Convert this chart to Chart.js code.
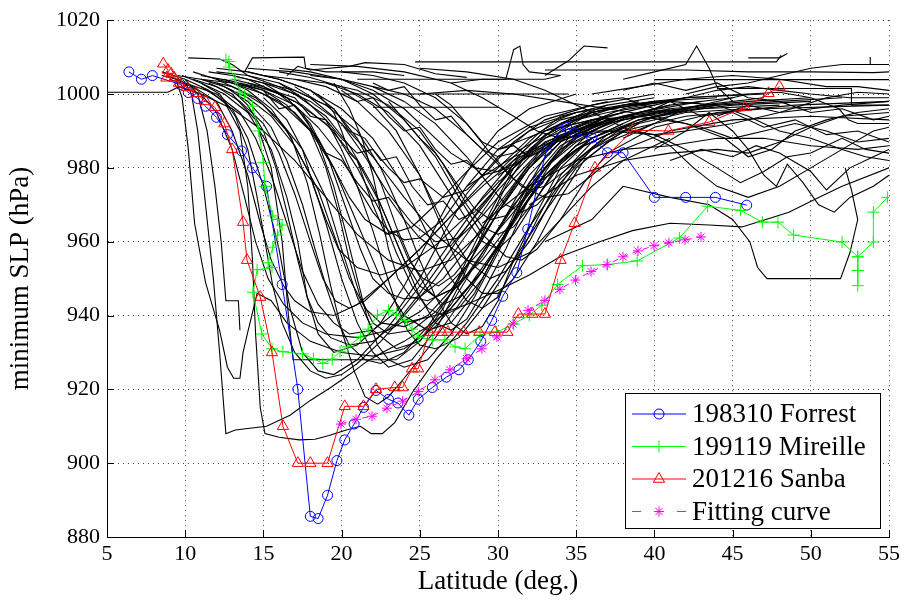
<!DOCTYPE html>
<html>
<head>
<meta charset="utf-8">
<script src="https://cdn.jsdelivr.net/npm/chart.js@4/dist/chart.umd.min.js"></script>
<style>
  html, body { margin: 0; padding: 0; background: #fff; }
  canvas { display: block; }
</style>
</head>
<body>
<canvas id="c" width="906" height="604"></canvas>
<script>
// Axis ticks
const latTicks = [5, 10, 15, 20, 25, 30, 35, 40, 45, 50, 55];
const slpTicks = [880, 900, 920, 940, 960, 980, 1000, 1020];

// Typhoon 198310 Forrest
const forrestLat = [6.4, 7.2, 7.9, 9.7, 10.2, 10.8, 11.3, 12.0, 12.7, 13.6, 14.3, 15.2, 16.2, 17.2, 18.0, 18.5, 19.1, 19.7, 20.2, 20.8, 21.4, 22.2, 23.0, 23.6, 24.3, 24.9, 25.8, 26.7, 27.5, 28.1, 28.9, 29.6, 30.3, 31.2, 31.9, 32.6, 33.1, 34.0, 34.4, 34.9, 36.0, 37.0, 38.0, 40.0, 42.0, 43.9, 45.9];
const forrestSLP = [1006, 1004, 1005, 1002.6, 1000.4, 998.8, 996.7, 993.7, 989, 984.6, 980, 975, 948.4, 920, 885.6, 885, 891.3, 900.7, 906.3, 910.6, 915.1, 919.7, 917.3, 916.3, 913, 917.3, 920.5, 923.3, 925.3, 928, 933, 938.7, 945.2, 951.6, 963.4, 976.6, 984.6, 990, 991, 989.4, 988.1, 984.1, 984.1, 972, 972, 972, 969.9];

// Typhoon 199119 Mireille
const mireilleLat = [12.6, 12.8, 12.8, 13.2, 13.5, 13.8, 14.3, 14.7, 15.0, 15.1, 15.6, 15.9, 16.2, 15.9, 15.6, 15.3, 15.55, 14.6, 14.33, 14.9, 15.55, 16.25, 17.5, 18.2, 18.8, 19.4, 19.9, 20.4, 21.2, 21.7, 22.3, 23.0, 23.5, 24.05, 24.5, 24.9, 25.8, 26.6, 27.25, 27.9, 28.85, 29.9, 31.0, 32.0, 32.8, 33.8, 35.4, 37.0, 38.9, 41.6, 43.4, 45.5, 46.9, 47.9, 48.9, 52.0, 53.0, 53.0, 53.0, 53.0, 53.0, 54.0, 54.0, 54.9];
const mireilleSLP = [1009.3, 1008.8, 1007.3, 1004, 1000.6, 1000, 996.7, 990, 981.4, 975, 967, 966, 964.5, 961.8, 958.5, 954.3, 953, 952.4, 946.3, 935, 931, 930.2, 929.6, 928.3, 927, 928.2, 930.2, 931.5, 934.2, 936.3, 940.1, 941.4, 940.4, 938.7, 936.3, 934.2, 933.4, 933.4, 931.5, 931, 934.7, 935.5, 937.7, 940.1, 942.8, 948.4, 953.5, 953.8, 954.8, 961, 969.6, 968.5, 965.3, 965.3, 961.8, 959.9, 955.9, 952.2, 948.1, 952.2, 955.9, 959.9, 968, 972];

// Typhoon 201216 Sanba
const sanbaLat = [8.6, 8.9, 8.8, 9.1, 9.3, 9.6, 10.1, 10.7, 11.3, 11.9, 12.5, 13.0, 13.7, 13.95, 14.8, 15.55, 16.25, 17.2, 18.0, 19.1, 20.2, 21.4, 22.2, 23.4, 23.9, 24.5, 24.9, 25.6, 26.4, 26.8, 27.8, 28.8, 29.8, 30.6, 31.3, 32.2, 33.0, 34.0, 34.9, 36.2, 38.6, 40.9, 43.5, 45.8, 47.3, 48.0];
const sanbaSLP = [1008.2, 1006.5, 1004.4, 1005.5, 1004.4, 1003, 1001.8, 1000.2, 998, 996.4, 992, 985, 965.3, 955, 945, 930, 910, 900, 900, 900, 915.4, 915.4, 920, 920.5, 920.5, 925.6, 925.6, 935.5, 935.5, 935.5, 935.5, 935.5, 935.5, 935.5, 940.4, 940.4, 940.4, 955, 965, 980, 990.2, 990, 992.4, 996.4, 1000.2, 1002];

// Fitting curve
const fitLat = [19.96, 20.92, 21.94, 22.9, 23.9, 24.9, 25.97, 26.93, 28.0, 28.97, 29.93, 30.96, 31.92, 33.0, 33.96, 34.95, 35.95, 36.97, 37.99, 38.95, 39.97, 40.93, 41.96, 42.98];
const fitSLP = [910.6, 911.9, 912.7, 914.9, 916.8, 919.4, 922.6, 925.3, 928.3, 931, 934.2, 937.7, 941.4, 944.1, 947.1, 949.6, 951.9, 953.8, 955.9, 957.5, 958.9, 959.7, 960.5, 961.3];

// Other typhoon tracks: pairs of latitude, minimum SLP
const stormTracks = [
  [5,1000.5, 8.9,1000.5, 9.6,1002, 11,1000, 13,996, 15,990, 17,982, 19,972, 21,962, 23,955, 25,952, 27,955, 29,963, 31,975, 33,985, 35,991, 38,995],
  [8.8,1005, 10,1003, 10.4,1000, 10.8,990, 11.3,970, 11.8,950, 12.2,930, 12.6,908, 13.2,909, 15.2,910, 16.7,913, 18,917, 19.3,920.5, 20.5,924, 21.6,927.5, 22.6,930, 24,933, 25.5,937, 27,942, 29,952, 31,965, 33,978, 35,986, 37,990],
  [9.4,1004, 9.8,999, 10.2,985, 10.6,965, 11.3,949, 12.2,936, 12.7,926, 13.1,923, 13.5,923, 13.7,930, 14,935.5, 14.6,946, 15.5,944, 16.5,938, 18,933, 20,930, 22,929, 24,931, 26,937, 28,947, 30,959, 32,972, 34,982, 36,988],
  [10,1004, 10.8,1000, 11.4,990, 11.9,975, 12.3,960, 12.6,944, 13.4,944, 13.5,936],
  [9.8,1005, 11,1003, 12.5,1000, 14,995, 15.5,985, 16.5,972, 17.2,960, 17.8,945, 18.5,935, 19.5,930, 21,932, 22.5,938, 24,948, 25.5,960, 27,972, 28.5,982, 30,990, 32,996, 35,1000],
  [10.5,1006, 12,1004, 13.5,1001, 15,997, 16.5,990, 18,978, 19,965, 20,950, 21,938, 22,930, 23,926, 24.5,928, 26,936, 27.5,948, 29,962, 30.5,975, 32,985, 34,992, 37,997, 40,999],
  [11,1004, 13,1002, 14.5,999, 16,993, 17.5,985, 19,972, 20,958, 21,945, 22,936, 23.5,931, 25,933, 26.5,942, 28,955, 29.5,968, 31,980, 33,989, 36,995, 40,998, 44,999],
  [12,1004, 14,1002, 16,998, 18,990, 19.5,980, 21,965, 22.5,950, 24,940, 25.5,936, 27,938, 28.5,946, 30,958, 31.5,972, 33,983, 35,991, 38,996, 42,999, 46,1000],
  [8.5,1006, 10,1004, 11.5,1001, 13,996, 14,988, 15,975, 16,958, 16.7,942, 17.5,930, 18.5,925, 19.5,924, 21,928, 23,937, 25,948, 27,960, 29,972, 31,982, 33,990, 36,996],
  [11.5,1003, 13,1000, 14.5,993, 15.5,980, 16.2,960, 16.6,940, 16.9,928, 19,928, 21,928, 23.5,928, 25,933, 27,943, 29,957, 31,970, 33,980, 35,987, 38,993, 42,996],
  [13,1004, 15,1002, 17,998, 19,992, 21,982, 22.5,970, 24,955, 25,945, 26,938, 27,936, 28,939, 29,946, 30.5,958, 32,972, 33.5,982, 35,989, 38,994, 41,997, 45,999],
  [14,1006, 16,1004, 18,1001, 20,996, 22,988, 24,975, 25.5,962, 27,950, 28,944, 29,942, 30,945, 31,953, 32.5,966, 34,978, 36,987, 39,993, 43,997, 47,999],
  [15,1005, 17,1004, 19,1002, 21,998, 23,990, 25,978, 26.5,965, 28,955, 29.5,950, 30.5,952, 32,960, 33.5,972, 35,982, 37,989, 40,994, 44,997],
  [10,1003, 12,1000, 13.5,995, 14.5,988, 15.5,978, 16.5,965, 17.5,952, 18.5,943, 19.5,938, 20.5,935, 22,936, 23.5,941, 25,950, 26.5,962, 28,973, 30,983, 32,990, 35,995],
  [9,1004, 10.5,1002, 12,998, 13,990, 14,978, 14.8,965, 15.5,955, 16.3,948, 17,944, 18,941, 19.5,940, 21,943, 23,950, 25,958, 27,967, 29,976, 31,984, 34,991, 38,995],
  [13.5,1003, 15.5,1001, 17.5,997, 19.5,990, 21,980, 22.5,968, 23.5,957, 24.5,948, 25.5,942, 26.5,940, 27.5,942, 29,950, 30.5,962, 32,975, 34,985, 37,992, 41,996, 46,998, 50,999],
  [16,1007, 18,1006, 20,1004, 22,1000, 24,993, 26,983, 27.5,972, 29,962, 30.5,956, 31.5,955, 32.5,958, 34,966, 35.5,976, 37,984, 40,991, 44,995, 49,997, 55,998],
  [17,1004, 19,1003, 21,1000, 23,995, 25,986, 26.5,976, 28,966, 29,960, 30,958, 31,962, 32.5,972, 34,982, 36,990, 39,995, 43,998],
  [12.5,1002, 14,999, 15.5,994, 17,986, 18.5,974, 19.5,962, 20.5,950, 21.5,942, 22.5,938, 24,937, 25.5,940, 27,947, 28.5,957, 30,968, 32,980, 34,988, 37,994],
  [11.5,1006, 13,1005, 15,1003, 17,1000, 19,994, 20.5,986, 22,975, 23,965, 24,955, 25,948, 26,945, 27.5,948, 29,956, 30.5,967, 32,978, 34,987, 37,993, 41,997],
  [14,1003, 16,1000, 17.5,995, 18.5,987, 19.5,975, 20.3,962, 21,950, 21.6,940, 22.3,932, 23,928, 24,926, 25.5,928, 27,935, 28.5,945, 30,957, 31.5,970, 33,980, 35,988, 38,994],
  [12,1007, 14,1006, 16,1004, 18,1001, 19.5,996, 21,988, 22.5,976, 23.5,964, 24.5,954, 25.5,947, 26.5,943, 27.5,945, 29,952, 30.5,962, 32,974, 34,985, 36,991, 39,995, 42,996],
  [11,1003, 12.2,1000, 13.2,994, 14,985, 14.6,972, 15.1,960, 15.6,948, 16.2,938, 17,930, 18,925, 19,923, 20,924, 21,927, 22.5,933, 24,940, 26,950, 28,962, 30,974, 32,983, 35,990],
  [18,1005, 20,1004, 22,1002, 24,998, 26,992, 28,983, 29.5,975, 30.5,970, 31.5,968, 32.5,970, 34,977, 36,985, 38,991, 41,995, 45,997, 50,998],
  [20,1006, 22,1005, 24,1003, 26,999, 28,992, 29.5,984, 31,977, 32,974, 33,975, 34.5,980, 36.5,987, 39,992, 42,995, 46,996],
  [11,1002, 12.5,998, 13.5,990, 14,975, 14.3,955, 14.5,935, 14.8,915, 15.1,908, 16,907, 17.3,906.3, 18.3,906.5, 19.2,907.5, 20.3,909, 21.2,910, 21.9,908, 22.6,908, 23.4,911, 24.5,919, 26,928, 28,938, 30,950, 32,964, 34,976, 36,985, 39,992],
  [12.5,1004, 14,1001, 15.5,996, 16.8,988, 17.8,976, 18.6,962, 19.3,948, 20,936, 20.8,925, 21.5,918, 22.3,916, 23,918, 24,923, 25.5,931, 27,940, 29,952, 31,966, 33,978, 35,986, 38,992],
  [15,1003, 17,1001, 19,997, 21,990, 22.5,980, 24,966, 25,955, 26,945, 27,938, 28,935, 29,937, 30,944, 31,955, 32.5,968, 34,980, 36,988, 39,994, 43,997],
  [16,1006, 18,1004.5, 20,1002, 22,997, 23.5,990, 25,978, 26,968, 27,958, 28,950, 29,946, 30,946, 31,950, 32.5,960, 34,972, 35.5,982, 38,990, 42,994, 47,996, 55,997],
  [13,1005, 15,1003, 16.5,999, 18,992, 19.2,982, 20.2,970, 21.2,958, 22,950, 23,946, 24,944.5, 25,945, 26.5,950, 28,958, 30,970, 32,981, 34,988, 37,993],
  [19,1003, 21,1001, 23,997, 25,990, 26.5,981, 28,970, 29,964, 30,962, 31,964, 32.5,972, 34,981, 36,988, 39,993, 43,996, 48,997],
  [10.5,1004, 12,1002, 13.5,998, 15,992, 16,984, 17,973, 18,960, 18.8,950, 19.6,944, 20.5,942, 21.5,944, 23,950, 25,958, 27,967, 29,975, 31,982, 34,989, 37,993],
  [9.5,1005, 11,1004, 12.5,1002, 14,998, 15.5,991, 16.5,982, 17.5,970, 18.3,958, 19,948, 19.8,938, 20.5,932, 21.5,928, 22.5,927, 24,930, 25.5,937, 27,946, 28.5,957, 30,968, 31.5,978, 33,986, 35,991],
  [12,1003, 13,1001, 14,997, 15,990, 15.8,980, 16.5,968, 17.2,955, 17.8,945, 18.5,938, 19.3,934, 20.5,932, 22,933, 23.5,938, 25,946, 27,958, 29,970, 31,980, 33,987, 36,992],
  [22,1002, 24,1000, 26,996, 28,989, 30,981, 31.5,975, 33,972, 34.5,973, 36,978, 38,985, 41,990, 45,993, 50,994, 55,993],
  [25,1007, 28,1006, 31,1004, 33,1001, 35,997, 37,993, 38.5,990, 40,989, 42,990, 45,992, 48,995, 52,997, 55,998],
  [8.5,1005, 9.5,1004, 10.8,1001, 12,995, 13,985, 13.8,972, 14.5,960, 15.3,950, 16.3,943, 17.5,938, 19,935, 21,934, 23,936, 25,941, 27,949, 29,958, 31,968, 33,978, 35,985, 38,991],
  [11,1005, 13,1003.5, 15,1001, 16.5,997, 18,990, 19,980, 19.8,968, 20.5,955, 21.2,945, 22,938, 23,935, 24.5,936, 26,941, 28,951, 30,963, 32,976, 34,986, 37,993, 41,996],
  [12,1006, 14,1005, 16,1003, 18,999, 20,992, 21.5,983, 23,973, 24.5,965, 26,960, 27.5,961, 29,967, 31,977, 33,986, 36,993, 40,997],
  [13,1003, 15,1000, 17,995, 18.5,988, 19.5,980, 20.5,972, 21.5,966, 23,962, 24.5,964, 26,970, 28,979, 30,987, 33,994, 37,998],
  [14,1007, 17,1006, 20,1004, 22,1001, 24,996, 25.5,990, 27,984, 28.5,980, 30,979, 31.5,982, 33,988, 35,993, 38,997, 42,999, 47,1000],
  [11,1004, 13,1003, 15,1001, 17,997, 18.5,991, 20,983, 21,975, 22,968, 23,963, 24,960.5, 25,961, 26.5,966, 28,975, 30,985, 32,991, 35,995],
  [18,1008, 21,1007.5, 24,1006, 27,1003, 29,999, 31,994, 32.5,990, 34,988, 35.5,989, 37,992, 40,995, 44,997, 48,998, 52,999],
  [15,999, 16.5,993, 17.5,985, 18.2,975, 19,966, 19.8,958, 21,953, 22.5,951, 24,953, 26,959, 28,967, 30,976, 32,984, 35,990, 38,994],
  [19.5,1003, 20.5,996, 21.3,988, 22,978, 22.5,968, 23,958, 23.6,950, 24.4,945, 25.5,944, 27,947, 29,955, 31,966, 33,977, 35,985, 38,991],
  [16,1003, 17.5,999, 19,993, 20,985, 21,975, 22,963, 22.8,952, 23.5,943, 24.2,936, 25,932, 26,931, 27.5,934, 29,942, 31,955, 33,968, 35,980, 37,987, 40,992],
  [14,1004, 15.5,1001, 17,999, 18,994, 19,993, 20,988, 21,984, 22,985, 23,980, 24,976, 25,977, 26.5,972, 28,974, 29.5,980, 31,987, 33,993, 36,997, 40,1000],
  [17,1002, 18.5,998, 19.5,996, 20.5,990, 21.5,988, 22.5,982, 23.5,983, 24.5,975, 25.5,970, 26.5,971, 27.5,966, 28.5,968, 30,975, 31.5,984, 33,990, 36,995, 40,998],
  [20,1001, 21,998, 22,999, 23,994, 24,990, 25,991, 26,985, 27,981, 28,982, 29,978, 30,979, 31,983, 32.5,989, 34,994, 37,997],
  [15,1001, 16,996, 17,997, 18,991, 19,984, 20,982, 21,976, 22,971, 23,972, 24,966, 25,961, 26,958, 27,959, 28,964, 29.5,972, 31,981, 33,988, 36,993],
  [18.5,1000, 19.5,995, 20,990, 20.5,984, 21,982, 21.5,976, 22,970, 22.8,962, 23.5,963, 24.3,955, 25.2,950, 26.2,948, 27.2,951, 28.5,958, 30,968, 32,980, 34,988, 37,994],
  [22,1003, 23,1001, 24,1002, 25,997, 26,993, 27,994, 28,989, 29,985, 30,983, 31,984, 32,988, 34,993, 37,996, 41,998],
  [23,998, 24,993, 25,988, 26,984, 27,978, 27.8,973, 28.5,969, 29.5,966, 30.5,967, 31.5,971, 33,980, 34.5,988, 37,994],
  [26,1000, 27,997, 28,992, 29,987, 30,985, 31,986, 32,983, 33,985, 34,990, 36,995, 39,998],
  [24,938, 26,940, 28,943, 30.1,947, 32,951, 34,956, 36.5,960, 38.6,963, 41,965, 43.5,964.5, 45.6,964, 48.6,968, 50.5,972, 52,975, 55,980],
  [30,985, 33,990, 36,993, 39,994, 42,992, 44.5,988, 46,983, 47.5,985, 49,990, 51,993, 53,995, 55,996],
  [28,975, 31,983, 34,988, 37,990, 40,989, 42,985, 44,980, 45.5,976, 47,979, 48.5,983, 50,984, 52,988, 53.5,985, 55,984],
  [32,970, 35,978, 38,982, 41,984, 44,985, 46,984, 48,987, 50,991, 52,994, 55,995],
  [33,960, 36,966, 38,975, 41,972, 43.5,970, 45,966, 46.1,960, 46.6,953, 47.2,950, 51.9,950, 52.5,957, 53,966, 52.6,974, 52.2,980],
  [25,1000, 28,1001, 31,1000, 34,998, 37,996, 40,994, 43,991, 45,988, 47,990, 49,992, 51,990, 53,987, 55,988],
  [34,992, 37,995, 40,997, 42,999, 44,1001, 46,1002, 48,1001, 50,1000, 52.5,999, 55,999],
  [36,1000, 39,1002, 42,1004, 45,1005, 48,1004, 51,1002, 53,1002, 55,1001],
  [40,985, 42,990, 43.5,995, 45,990, 46,985, 47,978, 47.8,975, 48.5,981, 49.5,976, 50.5,970, 51.5,968, 52.5,972, 54,975, 55,978],
  [38,988, 40,992, 42,996, 44,998, 46,1000, 48,1000.5, 50,999, 51.8,996, 52.4,993, 53,992, 55,992],
  [42,1000, 44,1002, 46,1003, 48,1005, 50,1007, 52,1008, 55,1008],
  [35,995, 38,997, 41,998, 44,997, 46,994, 48,990, 50,988, 52,985, 53.5,983, 55,982],
  [30,978, 33,986, 36,990, 39,990, 41,986, 42.5,980, 44,975, 46,972, 48,975, 50,980, 52,985, 54,990, 55,991],
  [29,965, 32,975, 35,982, 38,985, 41,986, 44,988, 47,988, 50,986, 53,985, 55,986],
  [36,998, 38,999, 40,996, 41,998, 43,994, 45,995, 47,991, 49,993, 51,989, 53,990, 55,987],
  [38,1001, 40,1003, 42,1001, 44,1003, 46,999, 48,998, 50,995, 52,996, 54,993, 55,994],
  [41,982, 43,985, 45,983, 46.5,986, 48,984, 50,979, 51,974, 52.5,980, 54,983, 55,985],
  [44,994, 46,997, 48,995, 49.5,997, 51,999, 53,1000.5, 55,1000],
  [24.7,1008.7, 32,1008.7, 40,1008.7, 47.8,1008.7, 48.1,1010.5],
  [40,1003.9, 47,1003.9, 55,1003.9],
  [46,1009.8, 48,1009.8, 48.5,1011],
  [53.8,1010, 53.8,1008, 55,1008],
  [20,1000, 25,1000, 30,1000, 34.5,1000],
  [21,1004, 27,1004, 33,1004, 34,1005],
  [22,996.4, 28,996.4, 30,996.4],
  [27,1003, 29,1004, 30.5,1004, 31,1012, 31.4,1013, 31.6,1008, 32,1006, 34,1005],
  [33,1006.5, 38,1006.5, 42,1006.5, 46,1006, 50,1006, 54,1005.8, 55,1006],
  [44,1001.5, 50,1001.5, 52.6,1001.5, 52.6,997, 55,997],
  [33,1005, 34.5,1009, 35.5,1013, 37,1012.5],
  [38,1004, 40,1006, 42,1008, 42.7,1013, 43.5,1007, 44,1002, 45,998],
  [10.2,1009.8, 12.2,1009.5, 13,1008, 14,1005, 16,1002, 18,998, 20,992, 22,983, 24,972, 26,962, 28,955, 30,953, 32,957, 34,966, 36,975, 38,982, 41,988],
  [13.8,1006, 14.3,1009.8, 17.6,1010, 17.7,1007, 19,1006, 22,1006, 24,1005],
  [16.5,1005, 17.2,1007.5, 18,1006.5, 20.5,1007.5, 21.5,1008.5, 24,1008, 26,1005.5, 28,1004.5]
];

const serif = '"Liberation Serif", "DejaVu Serif", serif';

function toPoints(lat, slp) {
  return lat.map((v, i) => ({ x: v, y: slp[i] }));
}
function pairsToPoints(arr) {
  const pts = [];
  for (let i = 0; i < arr.length; i += 2) pts.push({ x: arr[i], y: arr[i + 1] });
  return pts;
}

const namedSeries = [
  { label: '198310 Forrest', data: toPoints(forrestLat, forrestSLP), borderColor: '#0000ff', pointStyle: 'circle', pointRadius: 5, dash: [] },
  { label: '199119 Mireille', data: toPoints(mireilleLat, mireilleSLP), borderColor: '#00ff00', pointStyle: 'cross', pointRadius: 6, dash: [] },
  { label: '201216 Sanba', data: toPoints(sanbaLat, sanbaSLP), borderColor: '#ff0000', pointStyle: 'triangle', pointRadius: 6.5, dash: [] },
  { label: 'Fitting curve', data: toPoints(fitLat, fitSLP), borderColor: '#ff00ff', pointStyle: 'star', pointRadius: 5, dash: [6, 5] }
];

const datasets = [];
// the fitting curve is drawn on top, then the named storms, then the other tracks
[3, 2, 1, 0].forEach(i => {
  const s = namedSeries[i];
  datasets.push({
    label: s.label,
    data: s.data,
    showLine: true,
    borderColor: s.borderColor,
    borderWidth: 1,
    borderDash: s.dash,
    pointStyle: s.pointStyle,
    pointRadius: s.pointRadius,
    pointBorderColor: s.borderColor,
    pointBackgroundColor: 'rgba(0,0,0,0)',
    pointBorderWidth: 1,
    tension: 0
  });
});
stormTracks.forEach((t, i) => {
  datasets.push({
    label: 'track' + i,
    data: pairsToPoints(t),
    showLine: true,
    borderColor: '#000',
    borderWidth: 1.1,
    pointRadius: 0,
    tension: 0
  });
});

// MATLAB-like inward tick marks on the left and bottom axes
const inwardTicks = {
  id: 'inwardTicks',
  beforeDatasetsDraw(chart) {
    const { ctx, chartArea: a, scales } = chart;
    ctx.save();
    ctx.strokeStyle = '#000';
    ctx.lineWidth = 1;
    ctx.beginPath();
    slpTicks.forEach(v => {
      const y = Math.round(scales.y.getPixelForValue(v)) + 0.5;
      ctx.moveTo(a.left, y); ctx.lineTo(a.left + 7, y);
    });
    latTicks.forEach(v => {
      const x = Math.round(scales.x.getPixelForValue(v)) + 0.5;
      ctx.moveTo(x, a.bottom); ctx.lineTo(x, a.bottom - 7);
    });
    ctx.stroke();
    ctx.restore();
  }
};

function drawMarker(ctx, style, x, y, r, color) {
  ctx.save();
  ctx.strokeStyle = color;
  ctx.lineWidth = 1;
  ctx.setLineDash([]);
  ctx.beginPath();
  if (style === 'circle') {
    ctx.arc(x, y, r, 0, Math.PI * 2);
  } else if (style === 'cross') {
    ctx.moveTo(x - r, y); ctx.lineTo(x + r, y);
    ctx.moveTo(x, y - r); ctx.lineTo(x, y + r);
  } else if (style === 'triangle') {
    for (let k = 0; k < 3; k++) {
      const ang = k * 2 * Math.PI / 3;
      const px = x + Math.sin(ang) * r, py = y - Math.cos(ang) * r;
      if (k === 0) ctx.moveTo(px, py); else ctx.lineTo(px, py);
    }
    ctx.closePath();
  } else if (style === 'star') {
    for (let k = 0; k < 4; k++) {
      const ang = k * Math.PI / 4;
      ctx.moveTo(x - Math.cos(ang) * r, y - Math.sin(ang) * r);
      ctx.lineTo(x + Math.cos(ang) * r, y + Math.sin(ang) * r);
    }
  }
  ctx.stroke();
  ctx.restore();
}

// legend box in the lower right corner of the plot area
const boxLegend = {
  id: 'boxLegend',
  afterDraw(chart) {
    const { ctx, chartArea: a } = chart;
    const w = 255, h = 135;
    const x0 = a.right - 9 - w, y0 = a.bottom - 9 - h;
    ctx.save();
    ctx.fillStyle = '#fff';
    ctx.fillRect(x0, y0, w, h);
    ctx.strokeStyle = '#000';
    ctx.lineWidth = 1;
    ctx.strokeRect(Math.round(x0) + 0.5, Math.round(y0) + 0.5, w, h);
    namedSeries.forEach((s, i) => {
      const y = y0 + 21 + i * 32.5;
      ctx.strokeStyle = s.borderColor;
      ctx.lineWidth = 1;
      ctx.beginPath();
      if (s.dash.length) {
        ctx.moveTo(x0 + 7, y); ctx.lineTo(x0 + 16, y);
        ctx.moveTo(x0 + 52, y); ctx.lineTo(x0 + 61, y);
      } else {
        ctx.moveTo(x0 + 7, y); ctx.lineTo(x0 + 61, y);
      }
      ctx.stroke();
      drawMarker(ctx, s.pointStyle, x0 + 34, y, s.pointRadius, s.borderColor);
      ctx.fillStyle = '#000';
      ctx.font = '27px ' + serif;
      ctx.textBaseline = 'middle';
      ctx.textAlign = 'left';
      ctx.fillText(s.label, x0 + 67, y + 1);
    });
    ctx.restore();
  }
};

new Chart(document.getElementById('c'), {
  type: 'scatter',
  data: { datasets },
  plugins: [inwardTicks, boxLegend],
  options: {
    responsive: false,
    animation: false,
    events: [],
    layout: { padding: { top: 15, right: 17, left: 0, bottom: 0 } },
    plugins: { legend: { display: false }, tooltip: { enabled: false } },
    scales: {
      x: {
        type: 'linear', min: 5, max: 55,
        afterBuildTicks(s) { s.ticks = latTicks.map(v => ({ value: v })); },
        afterFit(s) { s.height = 67; },
        ticks: { color: '#000', font: { family: serif, size: 22 }, padding: 4, maxRotation: 0, callback: v => String(v) },
        grid: { color: '#444', lineWidth: 1, drawTicks: false },
        border: { display: true, color: '#000', width: 1, dash: [1, 4] },
        title: { display: true, text: 'Latitude (deg.)', color: '#000', font: { family: serif, size: 27 }, padding: { top: 0, bottom: 6 } }
      },
      y: {
        type: 'linear', min: 880, max: 1020,
        afterBuildTicks(s) { s.ticks = slpTicks.map(v => ({ value: v })); },
        afterFit(s) { s.width = 107; },
        ticks: { color: '#000', font: { family: serif, size: 22 }, padding: 7, callback: v => String(v) },
        grid: { color: '#444', lineWidth: 1, drawTicks: false },
        border: { display: true, color: '#000', width: 1, dash: [1, 4] },
        title: { display: true, text: 'minimum SLP (hPa)', color: '#000', font: { family: serif, size: 27 }, padding: { top: 5, bottom: 0 } }
      }
    }
  }
});
</script>
</body>
</html>
